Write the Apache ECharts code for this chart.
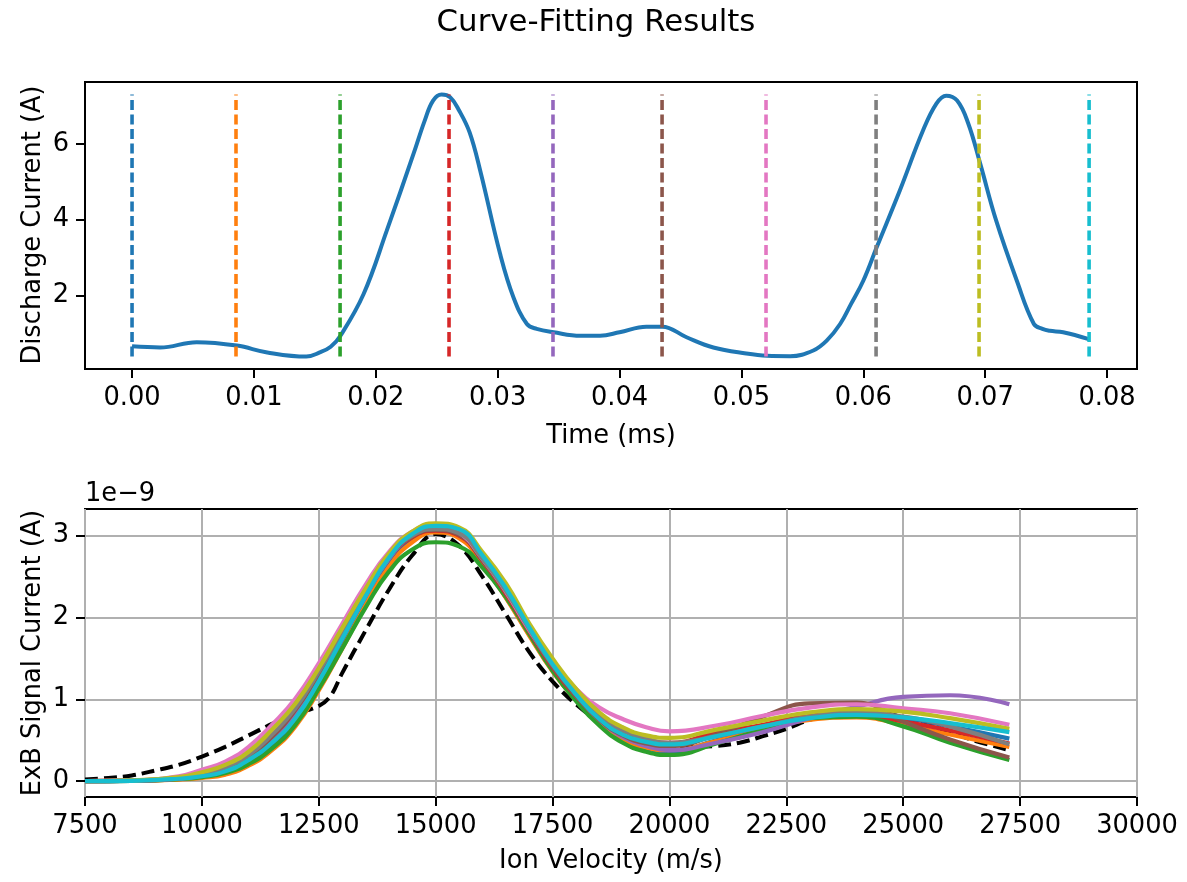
<!DOCTYPE html>
<html>
<head>
<meta charset="utf-8">
<script src="https://cdn.jsdelivr.net/npm/echarts@6.0.0/dist/echarts.min.js"></script>
<style>
html,body{margin:0;padding:0;background:#fff;}
#chart{width:1187px;height:882px;}
</style>
</head>
<body>
<div id="chart"></div>
<script>
// ---------- Top panel: discharge current ----------
var timeMs = [0.0000, 0.0023, 0.0053, 0.0086, 0.0111, 0.0143, 0.0154, 0.0163, 0.0171, 0.0190, 0.0209, 0.0231, 0.0240, 0.0247, 0.0254, 0.0261, 0.0268, 0.0277, 0.0286, 0.0302, 0.0313, 0.0324, 0.0332, 0.0346, 0.0368, 0.0384, 0.0400, 0.0422, 0.0435, 0.0455, 0.0477, 0.0504, 0.0521, 0.0540, 0.0559, 0.0570, 0.0581, 0.0590, 0.0600, 0.0611, 0.0630, 0.0649, 0.0660, 0.0668, 0.0677, 0.0686, 0.0696, 0.0709, 0.0726, 0.0740, 0.0747, 0.0753, 0.0764, 0.0785];
var dischargeCurrent = [0.66, 0.63, 0.77, 0.68, 0.50, 0.39, 0.50, 0.65, 0.94, 2.04, 3.71, 5.74, 6.60, 7.14, 7.30, 7.23, 6.90, 6.30, 5.25, 3.10, 1.95, 1.25, 1.12, 1.03, 0.94, 0.94, 1.03, 1.18, 1.18, 0.90, 0.63, 0.47, 0.41, 0.40, 0.55, 0.81, 1.25, 1.78, 2.39, 3.27, 4.77, 6.35, 7.06, 7.27, 7.14, 6.55, 5.47, 3.98, 2.39, 1.25, 1.12, 1.07, 1.03, 0.85];
var sampleTimes = [0.0000, 0.00853, 0.01707, 0.02601, 0.03454, 0.04349, 0.05202, 0.06105, 0.06950, 0.07853];
var timeTicks = [0, 0.01, 0.02, 0.03, 0.04, 0.05, 0.06, 0.07, 0.08];
var currentTicks = [2, 4, 6];

// ---------- Bottom panel: ExB signal (units of 1e-9 A) ----------
var velocity = [7500, 8500, 9500, 10000, 10500, 11000, 11500, 12000, 12500, 13000, 13500, 14000, 14500, 15000, 15500, 16000, 16500, 17000, 17500, 18000, 18500, 19000, 19500, 20000, 21000, 22000, 23000, 24000, 25000, 26000, 27270];
var fitBlue   = [0, 0.004, 0.025, 0.055, 0.11, 0.23, 0.43, 0.72, 1.15, 1.68, 2.21, 2.67, 2.95, 3.05, 2.98, 2.66, 2.25, 1.79, 1.35, 0.99, 0.70, 0.50, 0.40, 0.36, 0.50, 0.64, 0.76, 0.81, 0.77, 0.67, 0.52];
var fitOrange = [0, 0.003, 0.02, 0.04, 0.08, 0.19, 0.38, 0.67, 1.11, 1.62, 2.15, 2.62, 2.92, 3.04, 2.97, 2.65, 2.24, 1.78, 1.34, 0.99, 0.70, 0.51, 0.41, 0.38, 0.49, 0.64, 0.75, 0.78, 0.69, 0.57, 0.42];
var fitGreen  = [0, 0.004, 0.025, 0.05, 0.10, 0.21, 0.40, 0.69, 1.13, 1.62, 2.12, 2.56, 2.83, 2.92, 2.87, 2.61, 2.25, 1.80, 1.35, 0.98, 0.68, 0.47, 0.36, 0.32, 0.46, 0.63, 0.77, 0.79, 0.67, 0.47, 0.26];
var fitRed    = [0, 0.006, 0.03, 0.07, 0.14, 0.28, 0.51, 0.83, 1.26, 1.76, 2.27, 2.72, 2.98, 3.06, 3.00, 2.69, 2.29, 1.83, 1.39, 1.04, 0.77, 0.59, 0.50, 0.47, 0.59, 0.69, 0.80, 0.83, 0.73, 0.62, 0.46];
var fitPurple = [0, 0.006, 0.03, 0.07, 0.14, 0.27, 0.50, 0.82, 1.25, 1.75, 2.26, 2.72, 3.00, 3.10, 3.05, 2.73, 2.33, 1.87, 1.42, 1.05, 0.75, 0.54, 0.43, 0.38, 0.47, 0.60, 0.77, 0.91, 1.03, 1.05, 0.94];
var fitBrown  = [0, 0.007, 0.035, 0.08, 0.16, 0.30, 0.54, 0.87, 1.30, 1.79, 2.29, 2.74, 2.99, 3.07, 3.01, 2.70, 2.31, 1.84, 1.40, 1.04, 0.75, 0.56, 0.46, 0.43, 0.57, 0.79, 0.95, 0.96, 0.73, 0.51, 0.29];
var fitPink   = [0, 0.01, 0.06, 0.14, 0.24, 0.42, 0.69, 1.01, 1.44, 1.92, 2.40, 2.80, 3.05, 3.14, 3.04, 2.72, 2.32, 1.85, 1.45, 1.13, 0.90, 0.76, 0.66, 0.61, 0.68, 0.80, 0.90, 0.94, 0.89, 0.83, 0.69];
var fitGray   = [0, 0.008, 0.04, 0.09, 0.17, 0.32, 0.57, 0.89, 1.34, 1.82, 2.31, 2.75, 3.00, 3.08, 3.03, 2.72, 2.33, 1.86, 1.42, 1.07, 0.79, 0.62, 0.52, 0.47, 0.55, 0.67, 0.79, 0.84, 0.79, 0.67, 0.45];
var fitOlive  = [0, 0.01, 0.05, 0.11, 0.20, 0.36, 0.63, 0.95, 1.38, 1.87, 2.35, 2.78, 3.05, 3.15, 3.10, 2.80, 2.42, 1.93, 1.50, 1.13, 0.84, 0.66, 0.56, 0.53, 0.63, 0.74, 0.84, 0.88, 0.85, 0.77, 0.64];
var fitCyan   = [0, 0.005, 0.03, 0.06, 0.12, 0.26, 0.47, 0.77, 1.22, 1.74, 2.26, 2.73, 3.02, 3.12, 3.08, 2.76, 2.36, 1.88, 1.43, 1.06, 0.76, 0.57, 0.48, 0.45, 0.55, 0.67, 0.77, 0.81, 0.78, 0.71, 0.60];

var measuredVelocity = [7500, 8000, 8500, 9000, 9500, 10000, 10500, 11000, 11500, 12000, 12500, 12750, 13000, 13500, 14000, 14500, 15000, 15500, 16000, 16500, 17000, 17500, 18000, 18500, 19000, 19500, 20000, 20500, 21000, 21500, 22000, 22500, 23000, 23500, 24000, 24500, 25000, 25500, 26000, 26500, 27270];
var measuredSignal   = [0.02, 0.04, 0.07, 0.13, 0.20, 0.30, 0.42, 0.56, 0.70, 0.82, 0.92, 1.04, 1.32, 1.84, 2.34, 2.76, 3.02, 2.88, 2.50, 2.04, 1.58, 1.22, 0.94, 0.73, 0.58, 0.48, 0.43, 0.42, 0.43, 0.47, 0.55, 0.64, 0.75, 0.82, 0.85, 0.84, 0.78, 0.70, 0.60, 0.50, 0.38];
var signalTicks = [0, 1, 2, 3];

var tab10 = ['#1f77b4', '#ff7f0e', '#2ca02c', '#d62728', '#9467bd', '#8c564b', '#e377c2', '#7f7f7f', '#bcbd22', '#17becf'];
var fits = [fitBlue, fitOrange, fitGreen, fitRed, fitPurple, fitBrown, fitPink, fitGray, fitOlive, fitCyan];

var FONT = 'DejaVu Sans';
var FS = 25.7;

function zip(xs, ys) { return xs.map(function (x, i) { return [x, ys[i]]; }); }

var curMin = Math.min.apply(null, dischargeCurrent);
var curMax = Math.max.apply(null, dischargeCurrent);

var series = [];
series.push({
  type: 'line', xAxisIndex: 0, yAxisIndex: 0, data: zip(timeMs, dischargeCurrent),
  showSymbol: false, symbol: 'none', smooth: 0.4, lineStyle: { color: '#1f77b4', width: 4 }, z: 2
});
sampleTimes.forEach(function (t, i) {
  series.push({
    type: 'line', xAxisIndex: 0, yAxisIndex: 0, data: [[t, curMin], [t, curMax]],
    showSymbol: false, symbol: 'none', lineStyle: { color: tab10[i], width: 3.6, type: [10, 4.5] }, z: 3
  });
});
series.push({
  type: 'line', xAxisIndex: 1, yAxisIndex: 1, data: zip(measuredVelocity, measuredSignal),
  showSymbol: false, symbol: 'none', smooth: 0.4, lineStyle: { color: '#000', width: 4, type: [13, 6] }, z: 2
});
fits.forEach(function (f, i) {
  series.push({
    type: 'line', xAxisIndex: 1, yAxisIndex: 1, data: zip(velocity, f),
    showSymbol: false, symbol: 'none', smooth: 0.5, lineStyle: { color: tab10[i], width: 4.2 }, z: 3 + i * 0.01
  });
});

var tickStyle = { show: true, inside: false, length: 9, lineStyle: { color: '#000', width: 2 } };
var labelStyle = { color: '#000', fontFamily: FONT, fontSize: FS };
var noLine = { show: false, onZero: false };

var option = {
  animation: false,
  backgroundColor: '#fff',
  textStyle: { fontFamily: FONT },
  grid: [
    { left: 85, top: 82, width: 1052, height: 287, show: true, borderColor: '#000', borderWidth: 2, backgroundColor: 'transparent', containLabel: false },
    { left: 85, top: 509, width: 1052, height: 288, show: true, borderColor: '#000', borderWidth: 2, backgroundColor: 'transparent', containLabel: false }
  ],
  xAxis: [
    {
      type: 'value', gridIndex: 0, min: -0.00386, max: 0.08246, position: 'bottom',
      axisLine: noLine,
      axisTick: Object.assign({}, tickStyle, { customValues: timeTicks }),
      axisLabel: Object.assign({}, labelStyle, { margin: 16, customValues: timeTicks, formatter: function (v) { return v.toFixed(2); } }),
      splitLine: { show: false }
    },
    {
      type: 'value', gridIndex: 1, min: 7500, max: 30000, interval: 2500, position: 'bottom',
      axisLine: noLine,
      axisTick: tickStyle,
      axisLabel: Object.assign({}, labelStyle, { margin: 16, formatter: function (v) { return String(v); } }),
      splitLine: { show: true, lineStyle: { color: '#b0b0b0', width: 2 } }
    }
  ],
  yAxis: [
    {
      type: 'value', gridIndex: 0, min: 0.063, max: 7.63, position: 'left',
      axisLine: noLine,
      axisTick: Object.assign({}, tickStyle, { customValues: currentTicks }),
      axisLabel: Object.assign({}, labelStyle, { margin: 16, customValues: currentTicks }),
      splitLine: { show: false }
    },
    {
      type: 'value', gridIndex: 1, min: -0.193, max: 3.326, position: 'left',
      axisLine: noLine,
      axisTick: Object.assign({}, tickStyle, { customValues: signalTicks }),
      axisLabel: Object.assign({}, labelStyle, { margin: 16, customValues: signalTicks }),
      splitLine: { show: true, lineStyle: { color: '#b0b0b0', width: 2 } }
    }
  ],
  graphic: [
    { type: 'text', x: 596, y: 23, style: { text: 'Curve-Fitting Results', fontFamily: FONT, fontSize: 30.8, fill: '#000', align: 'center', verticalAlign: 'middle', textAlign: 'center', textVerticalAlign: 'middle' } },
    { type: 'text', x: 611, y: 436, style: { text: 'Time (ms)', fontFamily: FONT, fontSize: FS, fill: '#000', align: 'center', verticalAlign: 'middle', textAlign: 'center', textVerticalAlign: 'middle' } },
    { type: 'text', x: 33, y: 225, rotation: Math.PI / 2, style: { text: 'Discharge Current (A)', fontFamily: FONT, fontSize: FS, fill: '#000', align: 'center', verticalAlign: 'middle', textAlign: 'center', textVerticalAlign: 'middle' } },
    { type: 'text', x: 611, y: 861, style: { text: 'Ion Velocity (m/s)', fontFamily: FONT, fontSize: FS, fill: '#000', align: 'center', verticalAlign: 'middle', textAlign: 'center', textVerticalAlign: 'middle' } },
    { type: 'text', x: 33, y: 653, rotation: Math.PI / 2, style: { text: 'ExB Signal Current (A)', fontFamily: FONT, fontSize: FS, fill: '#000', align: 'center', verticalAlign: 'middle', textAlign: 'center', textVerticalAlign: 'middle' } },
    { type: 'text', x: 85, y: 494, style: { text: '1e\u22129', fontFamily: FONT, fontSize: FS, fill: '#000', align: 'left', verticalAlign: 'middle', textAlign: 'left', textVerticalAlign: 'middle' } }
  ],
  series: series
};

var chart = echarts.init(document.getElementById('chart'), null, { renderer: 'canvas' });
chart.setOption(option);
</script>
</body>
</html>
